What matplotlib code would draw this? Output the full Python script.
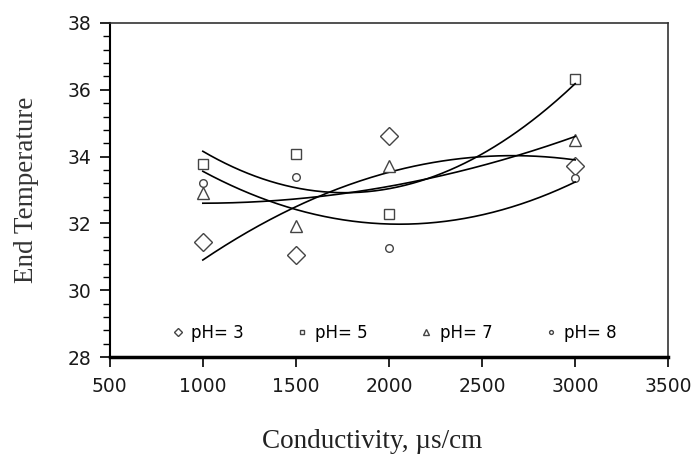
import numpy as np
import matplotlib.pyplot as plt
from matplotlib.ticker import MultipleLocator

conductivity = [1000, 1500, 2000, 3000]
ph3 = [31.45, 31.05, 34.62, 33.72]
ph5 = [33.78, 34.08, 32.28, 36.31]
ph7 = [32.91, 31.92, 33.72, 34.50]
ph8 = [33.20, 33.38, 31.26, 33.36]

labels = ["pH= 3", "pH= 5", "pH= 7", "pH= 8"]
markers = ["D", "s", "^", "o"]
sizes = [9, 6.5, 8.5, 5.5]

fig = plt.figure(figsize=(6.99, 4.59), dpi=100)
ax = fig.add_axes([0.157, 0.222, 0.799, 0.728])

x = np.array(conductivity)
xs = np.linspace(x.min(), x.max(), 200)
for ys, m, ms, lab in zip([ph3, ph5, ph7, ph8], markers, sizes, labels):
    ax.plot(x, ys, linestyle="none", marker=m, markersize=ms,
            markerfacecolor="white", markeredgecolor="#444444",
            markeredgewidth=1.0, label=lab)
    # 2nd order polynomial trendline
    c = np.polyfit(x, ys, 2)
    ax.plot(xs, np.polyval(c, xs), color="black", lw=1.2)

ax.set_xlim(500, 3500)
ax.set_ylim(28, 38)
ax.xaxis.set_major_locator(MultipleLocator(500))
ax.yaxis.set_major_locator(MultipleLocator(2))
ax.yaxis.set_minor_locator(MultipleLocator(0.4))

ax.tick_params(axis="both", which="major", direction="out", length=7, width=1.2,
               labelsize=13.5, colors="black", labelcolor="#1a1a1a")
ax.tick_params(axis="y", which="minor", direction="out", length=5, width=1.0)
ax.tick_params(axis="x", pad=7)
ax.tick_params(axis="y", pad=6)

ax.spines["left"].set_linewidth(1.5)
ax.spines["bottom"].set_linewidth(2.5)
ax.spines["top"].set_linewidth(1.2)
ax.spines["right"].set_linewidth(1.2)
ax.spines["top"].set_color("#333333")
ax.spines["right"].set_color("#333333")

ax.set_xlabel("Conductivity, \u00b5s/cm", family="Liberation Serif", fontsize=19.5,
              color="#222222", labelpad=24)
ax.xaxis.label.set_x(0.47)
ax.set_ylabel("End Temperature", family="Liberation Serif", fontsize=19.5,
              color="#333333", labelpad=21)

handles, labs = ax.get_legend_handles_labels()
leg = ax.legend(handles, labs, loc="lower center", bbox_to_anchor=(0.51, 0.0),
                ncol=4, frameon=False, fontsize=12, markerscale=0.5,
                handlelength=0.6, handletextpad=0.5, columnspacing=3.2)

fig.savefig("out.png", dpi=100)
